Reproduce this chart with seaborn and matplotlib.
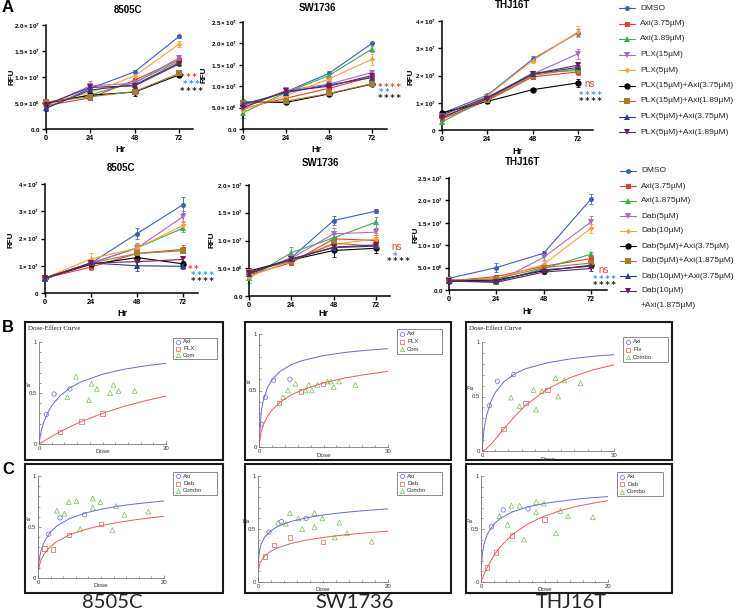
import numpy as np
import matplotlib
matplotlib.use("Agg")
import matplotlib.pyplot as plt
import seaborn as sns
from matplotlib.patches import Rectangle
from matplotlib.ticker import MultipleLocator

sns.set_theme(style="white")
plt.rcParams["font.family"] = ["Liberation Sans", "DejaVu Sans"]
plt.rcParams["mathtext.fontset"] = "custom"
plt.rcParams["mathtext.rm"] = "Liberation Sans"
plt.rcParams["mathtext.bf"] = "Liberation Sans:bold"

W, H = 740, 616

# ---------------- panel A: growth curves (RFU, in units of 1e6) ----------------
hours = [0, 24, 48, 72]
plx_groups = ["DMSO", "Axi(3.75µM)", "Axi(1.89µM)", "PLX(15µM)", "PLX(5µM)",
              "PLX(15µM)+Axi(3.75µM)", "PLX(15µM)+Axi(1.89µM)",
              "PLX(5µM)+Axi(3.75µM)", "PLX(5µM)+Axi(1.89µM)"]
dab_groups = ["DMSO", "Axi(3.75µM)", "Axi(1.875µM)", "Dab(5µM)", "Dab(10µM)",
              "Dab(5µM)+Axi(3.75µM)", "Dab(5µM)+Axi(1.875µM)",
              "Dab(10µM)+Axi(3.75µM)", "Dab(10µM)\n+Axi(1.875µM)"]

plx_8505c = [[4.0, 7.8, 11.0, 17.8], [4.5, 6.0, 9.4, 13.3], [4.8, 6.6, 9.0, 13.0],
             [4.5, 8.3, 8.8, 13.7], [5.0, 7.0, 10.2, 16.3], [5.0, 6.5, 7.1, 10.4],
             [5.2, 6.2, 7.2, 10.7], [4.0, 7.5, 8.5, 12.7], [4.7, 8.0, 8.3, 12.5]]
plx_8505c_err = [[0.3, 0.6, 0.3, 0.3], [0.3, 0.4, 0.5, 0.5], [0.3, 0.3, 0.4, 0.5],
                 [0.3, 0.9, 0.5, 0.5], [0.3, 0.5, 0.6, 0.6], [0.3, 0.4, 0.7, 0.4],
                 [0.3, 0.4, 0.4, 0.4], [0.5, 0.4, 0.4, 0.4], [0.3, 0.5, 0.4, 0.4]]
plx_sw1736 = [[5.5, 8.7, 13.0, 20.0], [4.8, 7.2, 9.5, 12.2], [3.8, 8.5, 12.5, 18.7],
              [5.0, 9.0, 10.5, 13.2], [4.5, 7.8, 11.7, 16.3], [6.3, 6.2, 8.2, 10.5],
              [6.0, 6.5, 8.3, 10.6], [5.8, 8.5, 10.3, 12.0], [5.0, 8.8, 10.0, 12.5]]
plx_sw1736_err = [[0.4, 0.4, 0.6, 0.2], [0.3, 0.4, 0.5, 0.6], [1.2, 0.4, 0.4, 0.8],
                  [0.4, 0.5, 0.5, 0.6], [0.4, 0.3, 0.4, 1.3], [0.3, 0.3, 0.6, 0.3],
                  [0.3, 0.3, 0.3, 0.3], [0.3, 0.4, 0.4, 0.4], [0.3, 0.4, 0.4, 0.4]]
plx_thj16t = [[6.1, 12.8, 26.0, 35.7], [4.0, 10.8, 19.5, 21.3], [3.0, 11.5, 21.0, 21.8],
              [4.5, 12.0, 20.5, 28.0], [5.5, 12.5, 25.5, 36.0], [6.3, 10.5, 14.8, 17.3],
              [5.0, 11.0, 20.0, 22.5], [5.5, 12.0, 20.5, 23.0], [4.5, 11.5, 20.5, 23.8]]
plx_thj16t_err = [[0.3, 0.5, 1.2, 1.2], [0.5, 0.5, 0.6, 1.0], [0.5, 0.5, 0.8, 1.2],
                  [0.3, 0.5, 0.8, 1.8], [0.3, 0.5, 0.8, 2.0], [0.3, 0.4, 0.6, 1.5],
                  [0.3, 0.4, 0.5, 1.0], [0.3, 0.4, 0.5, 0.8], [0.3, 0.4, 0.5, 0.8]]

dab_8505c = [[5.1, 11.0, 21.8, 32.4], [5.5, 9.5, 14.5, 16.0], [5.5, 11.0, 16.5, 23.8],
             [5.5, 11.0, 16.5, 28.0], [5.5, 12.5, 16.5, 24.8], [5.5, 10.5, 13.0, 10.7],
             [5.5, 11.0, 14.5, 15.5], [5.3, 11.0, 10.0, 9.8], [5.5, 11.0, 11.5, 12.3]]
dab_8505c_err = [[0.5, 1.0, 2.0, 3.0], [0.5, 1.0, 1.5, 1.5], [0.5, 1.0, 1.5, 1.5],
                 [0.5, 1.0, 2.0, 2.0], [0.5, 2.0, 1.5, 1.5], [0.5, 1.0, 1.5, 1.0],
                 [0.5, 1.0, 1.5, 1.0], [0.5, 1.0, 2.0, 1.0], [0.5, 1.0, 1.5, 1.0]]
dab_sw1736 = [[3.9, 6.9, 13.6, 15.3], [3.8, 6.0, 10.3, 10.0], [3.2, 7.8, 10.5, 13.3],
              [4.0, 6.8, 11.2, 11.5], [3.5, 6.3, 9.3, 10.3], [4.5, 6.5, 8.2, 8.6],
              [4.3, 6.3, 9.5, 9.0], [4.0, 6.7, 8.7, 9.0], [4.2, 6.6, 8.8, 9.2]]
dab_sw1736_err = [[1.0, 0.6, 0.8, 0.3], [0.5, 0.5, 0.8, 1.0], [0.8, 1.0, 0.8, 1.0],
                  [0.5, 0.5, 1.0, 0.8], [0.5, 0.5, 0.8, 1.0], [0.5, 0.5, 1.2, 0.8],
                  [0.5, 0.5, 0.8, 0.6], [0.5, 0.5, 0.8, 0.6], [0.5, 0.5, 0.8, 0.6]]
dab_thj16t = [[2.6, 5.0, 8.2, 20.3], [2.0, 3.0, 5.3, 7.0], [2.0, 1.8, 4.8, 8.0],
              [2.3, 1.8, 7.3, 15.2], [2.2, 2.5, 5.7, 13.8], [2.0, 2.2, 4.3, 5.5],
              [2.2, 2.5, 5.0, 6.0], [2.0, 2.0, 4.5, 5.3], [2.0, 1.7, 4.0, 4.8]]
dab_thj16t_err = [[0.3, 1.0, 0.5, 1.2], [0.3, 0.4, 0.5, 0.8], [0.3, 0.4, 0.5, 0.5],
                  [0.3, 0.4, 0.5, 1.3], [0.3, 0.4, 0.8, 1.0], [0.3, 0.3, 0.4, 0.5],
                  [0.3, 0.3, 0.4, 0.5], [0.3, 0.3, 0.4, 0.5], [0.3, 0.3, 0.4, 0.5]]

ticks_20 = [0, 5e6, 1e7, 1.5e7, 2e7]
labels_20 = [r"$\mathbf{0.0}$", r"$\mathbf{5.0\times10^{6}}$", r"$\mathbf{1.0\times10^{7}}$",
             r"$\mathbf{1.5\times10^{7}}$", r"$\mathbf{2.0\times10^{7}}$"]
ticks_25 = [0, 5e6, 1e7, 1.5e7, 2e7, 2.5e7]
labels_25 = labels_20 + [r"$\mathbf{2.5\times10^{7}}$"]
ticks_40 = [0, 1e7, 2e7, 3e7, 4e7]
labels_40 = [r"$\mathbf{0}$", r"$\mathbf{1\times10^{7}}$", r"$\mathbf{2\times10^{7}}$",
             r"$\mathbf{3\times10^{7}}$", r"$\mathbf{4\times10^{7}}$"]

colors = ["#3d5fc4", "#ec3b2f", "#3cae4a", "#a86bc4", "#f7a234",
          "#000000", "#a67c2e", "#2e3b8f", "#6b1e5e"]
markers = ["o", "s", "^", "v", "D", "o", "s", "^", "v"]
msizes = [3.6, 3.6, 3.8, 3.8, 2.8, 4.6, 4.2, 4.2, 4.2]

# ---------------- panels B / C: dose-effect data ----------------
b_grid = [0, 0.5, 1, 2, 3, 5, 7.5, 10, 15, 20, 25, 30]
c_grid = [0.05, 0.25, 0.5, 1, 2, 3, 5, 7.5, 10, 12.5, 15, 17.5, 20]

b1_axi_curve = [0, 0.125, 0.199, 0.302, 0.375, 0.474, 0.555, 0.611, 0.684, 0.732, 0.766, 0.79]
b1_drug_curve = [0, 0.012, 0.025, 0.05, 0.075, 0.12, 0.173, 0.22, 0.30, 0.368, 0.423, 0.47]
b1_axi_d, b1_axi_fa = [1.74, 3.56, 7.28], [0.29, 0.49, 0.54]
b1_drug_d, b1_drug_fa = [5.0, 10.0, 15.0], [0.12, 0.22, 0.30]
b1_combo_d = [8.7, 6.7, 12.4, 13.7, 11.8, 17.6, 16.8, 18.8, 22.6]
b1_combo_fa = [0.66, 0.46, 0.59, 0.54, 0.43, 0.58, 0.50, 0.52, 0.52]

b2_axi_curve = [0, 0.31, 0.415, 0.529, 0.595, 0.673, 0.728, 0.764, 0.809, 0.837, 0.856, 0.87]
b2_drug_curve = [0, 0.138, 0.197, 0.273, 0.326, 0.399, 0.461, 0.505, 0.567, 0.611, 0.643, 0.669]
b2_axi_d, b2_axi_fa = [0.6, 1.5, 3.4, 7.2], [0.20, 0.44, 0.59, 0.60]
b2_drug_d, b2_drug_fa = [4.7, 9.8, 14.9], [0.39, 0.49, 0.56]
b2_combo_d = [5.6, 6.7, 8.5, 10.8, 11.6, 12.3, 13.6, 15.9, 16.7, 17.4, 18.6, 22.4]
b2_combo_fa = [0.44, 0.50, 0.56, 0.50, 0.55, 0.50, 0.55, 0.58, 0.58, 0.53, 0.58, 0.55]

b3_axi_curve = [0, 0.21, 0.319, 0.453, 0.536, 0.637, 0.71, 0.756, 0.81, 0.845, 0.868, 0.884]
b3_drug_curve = [0, 0.008, 0.0225, 0.061, 0.107, 0.205, 0.321, 0.422, 0.572, 0.673, 0.742, 0.791]
b3_axi_d, b3_axi_fa = [1.66, 3.5, 7.2], [0.415, 0.64, 0.70]
b3_drug_d, b3_drug_fa = [4.9, 9.9, 14.9], [0.20, 0.44, 0.56]
b3_combo_d = [6.6, 8.5, 11.7, 12.3, 13.6, 16.7, 17.3, 18.7, 22.4]
b3_combo_fa = [0.49, 0.41, 0.56, 0.38, 0.55, 0.67, 0.50, 0.65, 0.62]

c1_axi_curve = [0.09, 0.202, 0.273, 0.358, 0.453, 0.51, 0.582, 0.637, 0.674, 0.702, 0.723, 0.74, 0.755]
c1_drug_curve = [0.06, 0.13, 0.178, 0.238, 0.311, 0.358, 0.423, 0.476, 0.514, 0.543, 0.567, 0.587, 0.604]
c1_axi_d, c1_axi_fa = [1.7, 3.5, 7.4], [0.43, 0.59, 0.62]
c1_drug_d, c1_drug_fa = [1.06, 2.4, 4.9, 10.0], [0.29, 0.28, 0.42, 0.53]
c1_combo_d = [3.0, 4.2, 4.9, 6.1, 8.7, 8.7, 9.9, 12.4, 6.7, 11.8, 13.7, 17.5]
c1_combo_fa = [0.66, 0.63, 0.745, 0.755, 0.78, 0.69, 0.745, 0.705, 0.48, 0.47, 0.62, 0.65]

c2_axi_curve = [0.19, 0.302, 0.36, 0.421, 0.485, 0.523, 0.57, 0.606, 0.632, 0.651, 0.666, 0.679, 0.69]
c2_drug_curve = [0.102, 0.166, 0.202, 0.245, 0.292, 0.322, 0.362, 0.396, 0.42, 0.439, 0.455, 0.468, 0.48]
c2_axi_d, c2_axi_fa = [1.7, 3.6, 7.4], [0.47, 0.57, 0.60]
c2_drug_d, c2_drug_fa = [1.08, 2.46, 4.9, 10.0], [0.24, 0.35, 0.42, 0.38]
c2_combo_d = [3.1, 4.3, 4.9, 6.2, 6.8, 8.7, 8.7, 9.9, 11.8, 12.5, 13.7, 17.5]
c2_combo_fa = [0.56, 0.55, 0.65, 0.60, 0.50, 0.65, 0.52, 0.60, 0.42, 0.56, 0.46, 0.38]

c3_axi_curve = [0.14, 0.28, 0.362, 0.452, 0.545, 0.599, 0.663, 0.71, 0.741, 0.763, 0.781, 0.795, 0.806]
c3_drug_curve = [0.008, 0.039, 0.076, 0.141, 0.247, 0.33, 0.451, 0.552, 0.622, 0.673, 0.712, 0.742, 0.767]
c3_axi_d, c3_axi_fa = [1.66, 3.5, 7.4], [0.52, 0.68, 0.69]
c3_drug_d, c3_drug_fa = [0.94, 2.34, 4.9, 10.0], [0.135, 0.28, 0.44, 0.59]
c3_combo_d = [2.9, 4.2, 4.8, 6.1, 6.75, 8.7, 8.7, 9.9, 11.8, 12.5, 13.7, 17.6]
c3_combo_fa = [0.62, 0.54, 0.72, 0.72, 0.40, 0.755, 0.66, 0.74, 0.46, 0.67, 0.62, 0.61]

c_axi, c_drug, c_combo = "#6b6bc0", "#e35d5d", "#74c052"

fig = plt.figure(figsize=(W / 100, H / 100), dpi=100)
ov = fig.add_axes([0, 0, 1, 1])
ov.set_xlim(0, W)
ov.set_ylim(H, 0)
ov.axis("off")


def px_axes(l, t, r, b):
    ax = fig.add_axes([l / W, 1 - b / H, (r - l) / W, (b - t) / H])
    ax.set_facecolor("none")
    return ax


def growth_panel(left, x72, right, top, bottom, ymax, yticks, ylabels, means, errs):
    ax = px_axes(left, top, right, bottom)
    for i in range(len(means)):
        y = np.array(means[i]) * 1e6
        ax.errorbar(hours, y, yerr=np.array(errs[i]) * 1e6, fmt="none", ecolor=colors[i],
                    elinewidth=0.6, capsize=1.6, capthick=0.6, clip_on=False, zorder=2)
        sns.lineplot(x=hours, y=y, ax=ax, color=colors[i], marker=markers[i],
                     markersize=msizes[i], mew=0, linewidth=0.8, clip_on=False,
                     zorder=3 + i, errorbar=None)
    ax.set_xlim(0, 72 * (right - left) / (x72 - left))
    ax.set_ylim(0, ymax)
    ax.set_xticks(hours, [str(h) for h in hours])
    ax.set_yticks(yticks, ylabels)
    ax.set_xlabel("")
    ax.set_ylabel("")
    sns.despine(ax=ax)
    for s in ["left", "bottom"]:
        ax.spines[s].set_linewidth(1.1)
        ax.spines[s].set_color("black")
    ax.tick_params(axis="both", direction="out", length=3, width=1, pad=1.5,
                   colors="black", bottom=True, left=True)
    ax.tick_params(axis="y", labelsize=4.5, pad=1.2)
    ax.tick_params(axis="x", labelsize=5.2)
    for lab in ax.get_xticklabels():
        lab.set_fontweight("bold")
    return ax


bold = dict(fontweight="bold", ha="center", va="center", color="black")

# row 1 (PLX)
growth_panel(46, 179, 193, 25, 129, 2e7, ticks_20, labels_20, plx_8505c, plx_8505c_err)
growth_panel(243, 372, 387, 22, 129, 2.5e7, ticks_25, labels_25, plx_sw1736, plx_sw1736_err)
growth_panel(442, 578, 593, 21, 130, 4e7, ticks_40, labels_40, plx_thj16t, plx_thj16t_err)
# row 2 (Dab)
growth_panel(45, 183, 198, 184, 293, 4e7, ticks_40, labels_40, dab_8505c, dab_8505c_err)
growth_panel(249, 376, 390, 185, 296, 2e7, ticks_20, labels_20, dab_sw1736, dab_sw1736_err)
growth_panel(449, 591, 607, 178, 290, 2.5e7, ticks_25, labels_25, dab_thj16t, dab_thj16t_err)

for x, y, t in [(128, 10, "8505C"), (317, 8, "SW1736"), (513, 5, "THJ16T"),
                (121, 168, "8505C"), (320, 163, "SW1736"), (523, 162, "THJ16T")]:
    ov.text(x, y, t, fontsize=7, **bold)
for x, y in [(120, 150), (316, 150), (517, 152), (122, 314), (323, 314), (527, 311)]:
    ov.text(x, y, "Hr", fontsize=6.5, **bold)
for x, y in [(12, 77), (204, 75), (411, 77), (11, 240), (212, 240), (416, 235)]:
    ov.text(x, y, "RFU", fontsize=5.8, rotation=90, **bold)

# significance marks
red_s, blue_s, blk_s = "#e8403a", "#3e9ad6", "#222222"
stars = [(180, 75, 3, red_s), (183, 82, 3, blue_s), (180, 89, 4, blk_s),
         (378, 85, 4, red_s), (379, 90, 2, blue_s), (378, 96, 4, blk_s),
         (579, 93, 4, blue_s), (579, 99, 4, blk_s),
         (188, 267, 2, red_s), (191, 273, 4, blue_s), (191, 279, 4, blk_s),
         (393, 254, 1, blue_s), (387, 259, 4, blk_s),
         (593, 277, 4, blue_s), (593, 283, 4, blk_s)]
for x, y, n, c in stars:
    ov.text(x, y + 2.2, "\u2009".join(["*"] * n), fontsize=6, color=c, fontweight="bold",
            ha="left", va="center", family="DejaVu Sans")
for x, y in [(584, 84), (391, 247), (598, 270)]:
    ov.text(x, y, "ns", fontsize=7, color=red_s, ha="left", va="center")


# legends
def legend(x0, y0, step, labels):
    for i, lab in enumerate(labels):
        y = y0 + i * step
        ov.plot([x0 - 8, x0 + 8], [y, y], color=colors[i], lw=0.8)
        ov.plot([x0], [y], marker=markers[i], ms=msizes[i], color=colors[i], mew=0)
        for j, p in enumerate(lab.split("\n")):
            ov.text(x0 + 13, y + j * 14.5, p, fontsize=6, ha="left", va="center")


legend(627, 8, 15.5, plx_groups)
legend(628, 171, 15, dab_groups)


# ---------------- dose-effect boxes ----------------
def dose_panel(box, inner, dmax, title, leg, leg_labels, grid, axi_c, drug_c,
               axi_d, axi_fa, drug_d, drug_fa, combo_d, combo_fa):
    bl, bt, br, bb = box
    ov.add_patch(Rectangle((bl, bt), br - bl, bb - bt, fill=False, lw=1.5, ec="#1a1a1a"))
    if title:
        ov.text(bl + 3, bt + 6, "Dose-Effect Curve", family="Liberation Serif",
                fontsize=5, ha="left", va="center", color="#222")
    ax = px_axes(*inner)
    sns.lineplot(x=grid, y=axi_c, ax=ax, color=c_axi, lw=0.7, errorbar=None)
    sns.lineplot(x=grid, y=drug_c, ax=ax, color=c_drug, lw=0.7, errorbar=None)
    sns.scatterplot(x=axi_d, y=axi_fa, ax=ax, marker="o", s=10, facecolor="none",
                    edgecolor=c_axi, linewidth=0.5, clip_on=False)
    sns.scatterplot(x=drug_d, y=drug_fa, ax=ax, marker="s", s=10, facecolor="none",
                    edgecolor=c_drug, linewidth=0.5, clip_on=False)
    sns.scatterplot(x=combo_d, y=combo_fa, ax=ax, marker="^", s=12, facecolor="none",
                    edgecolor=c_combo, linewidth=0.5, clip_on=False)
    ax.set_xlim(0, dmax)
    ax.set_ylim(0, 1)
    ax.set_xticks([0, dmax], ["0", str(dmax)])
    ax.xaxis.set_minor_locator(MultipleLocator(dmax / 10))
    ax.set_yticks([0, 0.5, 1], ["0", "0.5", "1"])
    ax.yaxis.set_minor_locator(MultipleLocator(0.1))
    ax.set_xlabel("")
    ax.set_ylabel("")
    sns.despine(ax=ax)
    for s in ["left", "bottom"]:
        ax.spines[s].set_linewidth(0.6)
        ax.spines[s].set_color("#777")
    ax.tick_params(which="both", direction="in", color="#777", width=0.5,
                   labelsize=4.3, pad=1.5, labelcolor="#333", bottom=True, left=True)
    ax.tick_params(which="major", length=2.5)
    ax.tick_params(which="minor", length=1.5)
    ax.text(-0.09, 0.57, "Fa", transform=ax.transAxes, fontsize=4.5, ha="center",
            va="center", color="#333")
    ax.text(0.5, -0.075, "Dose", transform=ax.transAxes, fontsize=4.5, ha="center",
            va="center", color="#333")
    ll, lt, lr, lb = leg
    ov.add_patch(Rectangle((ll, lt), lr - ll, lb - lt, fill=True, fc="white", lw=0.6, ec="#777"))
    step = (lb - lt) / 3.2
    for i, (lab, m, c) in enumerate(zip(leg_labels, ["o", "s", "^"], [c_axi, c_drug, c_combo])):
        y = lt + step * (i + 0.6)
        ov.plot([ll + 5], [y], marker=m, ms=3, mfc="none", mec=c, mew=0.5)
        ov.text(ll + 10, y, lab, fontsize=4.3, ha="left", va="center", color="#333")


dose_panel((25, 322, 223, 460), (39, 342, 166, 444), 30, True, (173, 338, 217, 359),
           ["Axi", "PLX", "Com"], b_grid, b1_axi_curve, b1_drug_curve,
           b1_axi_d, b1_axi_fa, b1_drug_d, b1_drug_fa, b1_combo_d, b1_combo_fa)
dose_panel((245, 322, 451, 460), (259, 334, 388, 447), 30, False, (397, 329, 442, 354),
           ["Axi", "PLX", "Com"], b_grid, b2_axi_curve, b2_drug_curve,
           b2_axi_d, b2_axi_fa, b2_drug_d, b2_drug_fa, b2_combo_d, b2_combo_fa)
dose_panel((466, 322, 672, 460), (482, 342, 614, 451), 30, True, (623, 337, 668, 362),
           ["Axi", "Plx", "Combo"], b_grid, b3_axi_curve, b3_drug_curve,
           b3_axi_d, b3_axi_fa, b3_drug_d, b3_drug_fa, b3_combo_d, b3_combo_fa)
dose_panel((25, 464, 223, 593), (38, 476, 164, 578), 20, False, (173, 472, 217, 495),
           ["Axi", "Dab", "Combo"], c_grid, c1_axi_curve, c1_drug_curve,
           c1_axi_d, c1_axi_fa, c1_drug_d, c1_drug_fa, c1_combo_d, c1_combo_fa)
dose_panel((245, 464, 451, 593), (258, 476, 388, 582), 20, False, (397, 472, 442, 495),
           ["Axi", "Dab", "Combo"], c_grid, c2_axi_curve, c2_drug_curve,
           c2_axi_d, c2_axi_fa, c2_drug_d, c2_drug_fa, c2_combo_d, c2_combo_fa)
dose_panel((466, 464, 672, 593), (481, 476, 608, 582), 20, False, (617, 472, 663, 496),
           ["Axi", "Dab", "Combo"], c_grid, c3_axi_curve, c3_drug_curve,
           c3_axi_d, c3_axi_fa, c3_drug_d, c3_drug_fa, c3_combo_d, c3_combo_fa)

# panel letters and cell-line captions
for x, y, t in [(8, 8, "A"), (8, 328, "B"), (8, 470, "C")]:
    ov.text(x, y, t, fontsize=12, **bold)
for x, y, t in [(112, 603, "8505C"), (355, 603, "SW1736"), (571, 603, "THJ16T")]:
    ov.text(x, y, t, fontsize=14.5, ha="center", va="center", family="Lato")

fig.savefig("out.png", dpi=100)
